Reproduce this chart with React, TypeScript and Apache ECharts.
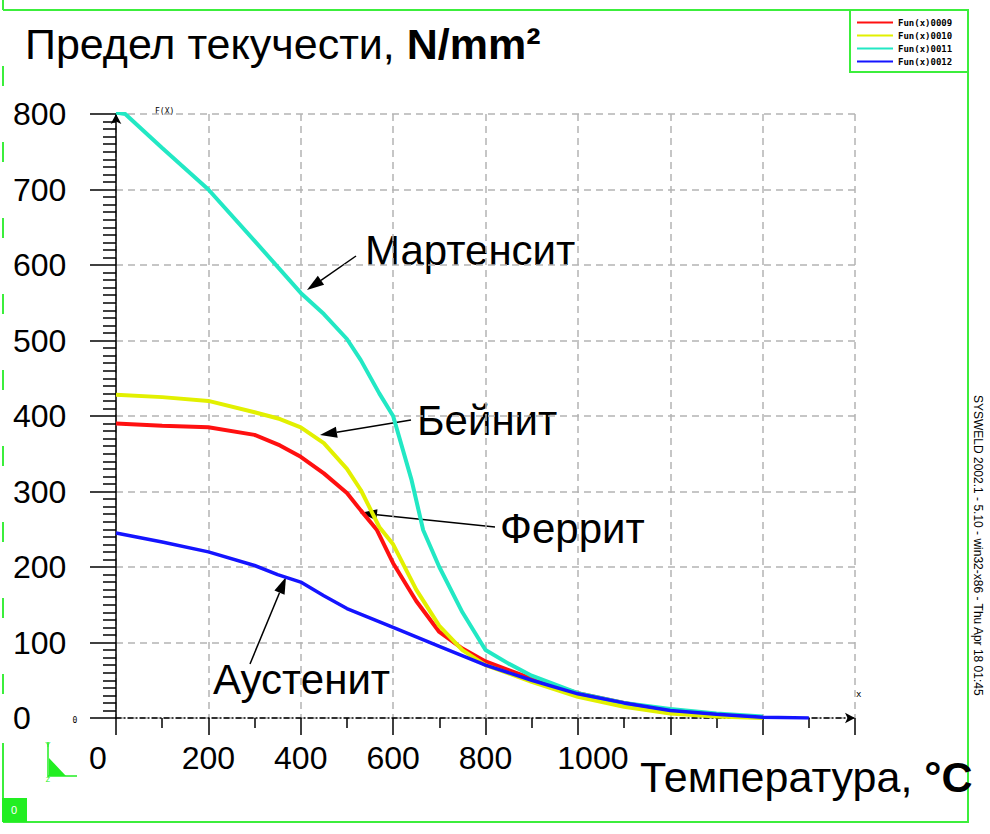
import React, { useEffect, useRef } from "react";
import * as echarts from "echarts";

const seriesNames = ["Fun(x)0009", "Fun(x)0010", "Fun(x)0011", "Fun(x)0012"];
const seriesColors = ["#ff1010", "#e2f000", "#22e8c4", "#1414ff"];

// Ferrite (red)
const ferrite: [number, number][] = [
  [0, 390], [100, 387], [200, 385], [300, 375], [355, 361], [400, 346], [450, 324],
  [500, 298], [530, 275], [565, 249], [600, 205], [650, 155], [700, 114], [750, 92],
  [800, 75], [900, 52], [1000, 33], [1100, 20], [1200, 10], [1300, 4], [1400, 1],
];
// Bainite (yellow)
const bainite: [number, number][] = [
  [0, 428], [100, 425], [200, 420], [300, 405], [355, 396], [400, 385], [450, 364],
  [500, 330], [530, 302], [570, 253], [600, 230], [650, 170], [700, 122], [750, 90],
  [800, 70], [900, 48], [1000, 28], [1100, 15], [1200, 6], [1300, 2], [1400, 0],
];
// Martensite (cyan)
const martensite: [number, number][] = [
  [0, 802], [20, 800], [100, 755], [200, 700], [300, 632], [400, 563], [450, 535],
  [500, 502], [530, 474], [570, 430], [600, 400], [640, 315], [665, 249], [700, 200],
  [750, 140], [800, 90], [850, 72], [900, 56], [1000, 33], [1100, 20], [1200, 12],
  [1300, 6], [1400, 2],
];
// Austenite (blue)
const austenite: [number, number][] = [
  [0, 245], [100, 233], [200, 220], [300, 202], [350, 190], [400, 180], [450, 162],
  [500, 145], [600, 120], [700, 95], [800, 70], [900, 50], [1000, 32], [1100, 20],
  [1200, 10], [1300, 5], [1400, 1], [1500, 0],
];

const xLabelMax = 1000;
const FONT = "'Liberation Sans', Arial, sans-serif";
const GREEN = "#3cee3c";
const AXIS_FS = 32;

function arrow(sx: number, sy: number, tx: number, ty: number) {
  const dx = tx - sx, dy = ty - sy;
  const len = Math.sqrt(dx * dx + dy * dy);
  const ux = dx / len, uy = dy / len;
  const L = 17, W = 11;
  const bx = tx - ux * L, by = ty - uy * L;
  const nx = -uy, ny = ux;
  return [
    { type: "line", shape: { x1: sx, y1: sy, x2: bx, y2: by }, style: { stroke: "#000", lineWidth: 1.5 } },
    {
      type: "polygon",
      shape: { points: [[tx, ty], [bx + nx * W / 2, by + ny * W / 2], [bx - nx * W / 2, by - ny * W / 2]] },
      style: { fill: "#000" },
    },
  ];
}

function label(text: string, x: number, y: number, size = 42) {
  return {
    type: "text",
    x,
    y,
    style: { text, font: `${size}px ${FONT}`, fill: "#000", textVerticalAlign: "bottom" },
  };
}

export default function App() {
  const ref = useRef<HTMLDivElement>(null);
  useEffect(() => {
    if (!ref.current) return;
    const chart = echarts.init(ref.current, undefined, { renderer: "svg" });
    const datasets = [ferrite, bainite, martensite, austenite];
    const option: any = {
      animation: false,
      backgroundColor: "#fff",
      grid: { left: 116, right: 135, top: 114, bottom: 116, containLabel: false },
      legend: {
        data: seriesNames,
        orient: "vertical",
        left: 857,
        top: 16,
        itemWidth: 36,
        itemHeight: 2,
        itemGap: 0,
        padding: 0,
        icon: "rect",
        selectedMode: false,
        textStyle: { fontSize: 9, lineHeight: 13, color: "#000", fontWeight: "bold", fontFamily: "'DejaVu Sans Mono', monospace" },
      },
      xAxis: {
        type: "value",
        min: 0,
        max: 1600,
        interval: 200,
        axisLine: {
          show: true,
          symbol: ["none", "arrow"],
          symbolSize: [8, 10],
          lineStyle: { color: "#000", width: 1.5, type: [5, 3, 1, 3] },
        },
        axisTick: { show: true, length: 17, lineStyle: { color: "#000", width: 1.5 } },
        minorTick: { show: true, splitNumber: 2, length: 10, lineStyle: { color: "#000", width: 1.5 } },
        splitLine: { show: true, lineStyle: { color: "#b4b4b4", width: 1.5, type: [7, 5] } },
        axisLabel: {
          margin: 24,
          color: "#000",
          fontSize: AXIS_FS,
          fontFamily: FONT,
          formatter: (v: number) => {
            if (v > xLabelMax) return "";
            if (v === 0) return "{z|0}";
            if (v === 1000) return "{k|1000}";
            return String(v);
          },
          rich: {
            z: { fontSize: AXIS_FS, fontFamily: FONT, color: "#000", padding: [0, 36, 0, 0] },
            k: { fontSize: AXIS_FS, fontFamily: FONT, color: "#000", padding: [0, 0, 0, 30] },
          },
        },
      },
      yAxis: {
        type: "value",
        min: 0,
        max: 800,
        interval: 100,
        axisLine: {
          show: true,
          symbol: ["none", "arrow"],
          symbolSize: [8, 10],
          lineStyle: { color: "#000", width: 1.5 },
        },
        axisTick: { show: true, length: 26, lineStyle: { color: "#000", width: 1.5 } },
        minorTick: { show: true, splitNumber: 10, length: 13, lineStyle: { color: "#000", width: 1.5 } },
        splitLine: { show: true, lineStyle: { color: "#b4b4b4", width: 1.5, type: [7, 5] } },
        axisLabel: { margin: 103, align: "left", color: "#000", fontSize: AXIS_FS, fontFamily: FONT },
      },
      series: seriesNames.map((name, i) => ({
        name,
        type: "line",
        data: datasets[i],
        showSymbol: false,
        symbol: "none",
        lineStyle: { color: seriesColors[i], width: i === 3 ? 3.5 : 4 },
        itemStyle: { color: seriesColors[i] },
        z: 2 + i,
      })),
      graphic: [
        // frame
        { type: "line", shape: { x1: 3, y1: 10, x2: 969, y2: 10 }, style: { stroke: GREEN, lineWidth: 2 } },
        { type: "line", shape: { x1: 968, y1: 10, x2: 968, y2: 823 }, style: { stroke: GREEN, lineWidth: 2 } },
        { type: "line", shape: { x1: 3, y1: 822, x2: 968, y2: 822 }, style: { stroke: GREEN, lineWidth: 2 } },
        { type: "line", shape: { x1: 3, y1: -10, x2: 3, y2: 822 }, style: { stroke: GREEN, lineWidth: 2, lineDash: [20, 56] } },
        { type: "line", shape: { x1: 3, y1: 743, x2: 3, y2: 822 }, style: { stroke: GREEN, lineWidth: 2 } },
        // legend box
        { type: "rect", shape: { x: 850, y: 10, width: 118, height: 62 }, style: { fill: "none", stroke: GREEN, lineWidth: 2 } },
        // bottom-left box
        { type: "rect", shape: { x: 2, y: 798, width: 25, height: 24 }, style: { fill: "#22ee22" } },
        { type: "text", x: 14, y: 810, style: { text: "0", font: `11px ${FONT}`, fill: "#fff", textAlign: "center", textVerticalAlign: "middle" } },
        // triad icon
        { type: "line", shape: { x1: 48, y1: 742, x2: 48, y2: 777 }, style: { stroke: "#22ee22", lineWidth: 1.5 } },
        { type: "line", shape: { x1: 48, y1: 776, x2: 77, y2: 776 }, style: { stroke: "#22ee22", lineWidth: 1.5 } },
        { type: "polygon", shape: { points: [[49, 758], [49, 776], [66, 776]] }, style: { fill: "#22ee22" } },
        { type: "text", x: 48, y: 744, style: { text: "Y", font: `8px ${FONT}`, fill: "#22ee22", textAlign: "center", textVerticalAlign: "middle" } },
        { type: "text", x: 48, y: 779, style: { text: "Z", font: `7px ${FONT}`, fill: "#22ee22", textAlign: "center", textVerticalAlign: "middle" } },
        // small labels
        { type: "text", x: 155, y: 111, style: { text: "F(X)", font: `8px 'DejaVu Sans Mono', monospace`, fill: "#000", textVerticalAlign: "middle" } },
        { type: "text", x: 856, y: 694, style: { text: "x", font: `9px 'DejaVu Sans Mono', monospace`, fill: "#000", textVerticalAlign: "middle" } },
        { type: "text", x: 75, y: 720, style: { text: "0", font: `8px 'DejaVu Sans Mono', monospace`, fill: "#000", textAlign: "center", textVerticalAlign: "middle" } },
        // vertical stamp
        {
          type: "text",
          x: 972,
          y: 395,
          rotation: -Math.PI / 2,
          style: { text: "SYSWELD 2002.1 - 5.10 - win32-x86 - Thu Apr 18 01:45", font: `12px ${FONT}`, fill: "#000", textVerticalAlign: "bottom" },
        },
        // title
        {
          type: "text",
          x: 25,
          y: 65,
          style: {
            text: "{a|Предел текучести, }{b|N/mm²}",
            textVerticalAlign: "bottom",
            rich: {
              a: { font: `43px ${FONT}`, fill: "#000" },
              b: { font: `bold 43px ${FONT}`, fill: "#000" },
            },
          },
        },
        // x-axis title
        {
          type: "text",
          x: 640,
          y: 798,
          style: {
            text: "{a|Температура, }{b|°C}",
            textVerticalAlign: "bottom",
            rich: {
              a: { font: `43px ${FONT}`, fill: "#000" },
              b: { font: `bold 43px ${FONT}`, fill: "#000" },
            },
          },
        },
        label("Мартенсит", 365, 271),
        label("Бейнит", 417, 441),
        label("Феррит", 500, 549),
        label("Аустенит", 213, 700),
        ...arrow(356, 256, 307, 290),
        ...arrow(411, 420, 320, 435),
        ...arrow(495, 527, 360, 513),
        ...arrow(250, 664, 286, 577),
      ],
    };
    chart.setOption(option);
    return () => chart.dispose();
  }, []);
  return <div ref={ref} style={{ position: "fixed", left: 0, top: 0, width: 990, height: 834 }} />;
}
